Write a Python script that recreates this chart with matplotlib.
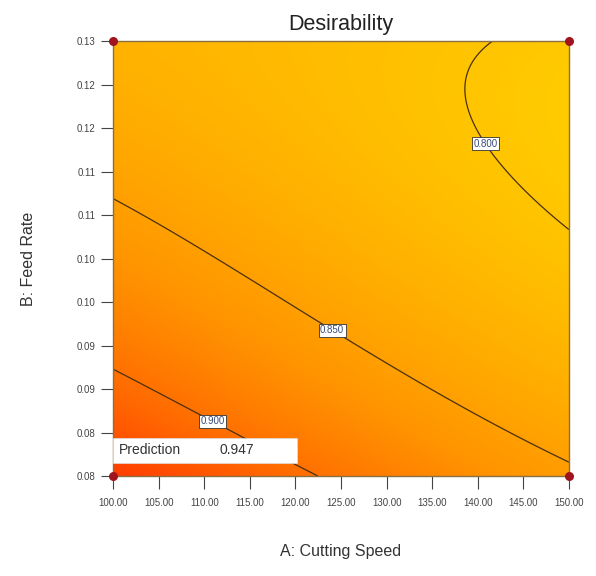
import matplotlib
matplotlib.use("Agg")
import matplotlib.pyplot as plt
import numpy as np
from matplotlib.colors import LinearSegmentedColormap, Normalize

plt.rcParams["font.family"] = ["Liberation Sans", "DejaVu Sans"]

# factor ranges
a_range = [100.0, 150.0]
b_range = [0.08, 0.13]

# points (A: cutting speed, B: feed rate)
level_900_A = [100.0, 105.15, 111.18, 118.64, 122.37]
level_900_B = [0.0922, 0.0891, 0.0869, 0.0818, 0.0800]
level_850_A = [100.0, 110.64, 118.64, 123.79, 132.57, 141.67, 150.0]
level_850_B = [0.1117, 0.1063, 0.0999, 0.0964, 0.0914, 0.0864, 0.0815]
level_800_A = [141.56, 140.30, 139.47, 138.38, 138.60, 139.91, 141.01, 143.20, 146.05, 150.0]
level_800_B = [0.1300, 0.1287, 0.1270, 0.1247, 0.1221, 0.1194, 0.1183, 0.1155, 0.1117, 0.1083]
corner_A = [100.0, 100.0, 150.0, 150.0]
corner_B = [0.080, 0.130, 0.080, 0.130]
corner_D = [0.947, 0.825, 0.855, 0.785]

contour_levels = [0.800, 0.850, 0.900]
label_spots = [(141.0, 0.1183), (123.8, 0.0964), (111.2, 0.0869)]
prediction = 0.947
design_A = [100.0, 100.0, 150.0, 150.0]
design_B = [0.080, 0.130, 0.080, 0.130]

x_ticks = np.arange(100, 151, 5)
x_ticklabels = ["%.2f" % v for v in x_ticks]
y_ticks = [0.080, 0.085, 0.090, 0.095, 0.100, 0.105, 0.110, 0.115, 0.120, 0.125, 0.130]
y_ticklabels = ["0.08", "0.08", "0.09", "0.09", "0.10", "0.10", "0.11", "0.11", "0.12", "0.12", "0.13"]


def coded(A, B):
    a = (np.asarray(A) - 125.0) / 25.0
    b = (np.asarray(B) - 0.105) / 0.025
    return a, b


def terms(a, b):
    return np.column_stack([np.ones_like(a), a, b, a * b, a * a, b * b,
                            a * a * b, a * b * b, a ** 3, b ** 3,
                            a * b ** 3, b ** 4])


# weighted fit of a polynomial response surface through the traced points
A_all = np.concatenate([level_900_A, level_850_A, level_800_A, corner_A])
B_all = np.concatenate([level_900_B, level_850_B, level_800_B, corner_B])
D_all = np.concatenate([[0.900] * len(level_900_A), [0.850] * len(level_850_A),
                        [0.800] * len(level_800_A), corner_D])
w_all = np.concatenate([[1.0] * len(level_900_A), [1.0] * len(level_850_A),
                        [4.0] * len(level_800_A), [0.3, 0.2, 0.2, 0.2]])
a_all, b_all = coded(A_all, B_all)
X = terms(a_all, b_all) * w_all[:, None]
coef, *_ = np.linalg.lstsq(X, D_all * w_all, rcond=None)

A_grid = np.linspace(a_range[0], a_range[1], 300)
B_grid = np.linspace(b_range[0], b_range[1], 300)
AA, BB = np.meshgrid(A_grid, B_grid)
ag, bg = coded(AA.ravel(), BB.ravel())
DD = (terms(ag, bg) @ coef).reshape(AA.shape)

cmap = LinearSegmentedColormap.from_list(
    "desir", ["#ffd400", "#ffb400", "#ff9400", "#ff6a00", "#ff3800"])

fig = plt.figure(figsize=(5.96, 5.76), dpi=100)
ax = fig.add_axes([0.1896, 0.1736, 0.765, 0.7552])

ax.imshow(DD, origin="lower", extent=[a_range[0], a_range[1], b_range[0], b_range[1]],
          aspect="auto", cmap=cmap, norm=Normalize(vmin=0.78, vmax=0.95),
          interpolation="bilinear")
cs = ax.contour(AA, BB, DD, levels=contour_levels, colors="#4a3010", linewidths=0.9)
labels = ax.clabel(cs, fmt="%.3f", fontsize=7, inline=False, manual=label_spots)
for t in labels:
    t.set_rotation(0)
    t.set_color("#3a4a7a")
    t.set_bbox(dict(boxstyle="square,pad=0.15", fc="white", ec="#333333", lw=0.6))

# design points at the corners
ax.scatter(design_A, design_B, s=30, color="#a0141e", zorder=5, clip_on=False)

# prediction box
ax.add_patch(plt.Rectangle((100.0, 0.0815), 20.2, 0.0029, fc="white", ec="#dddddd",
                           lw=0.5, zorder=5, clip_on=False))
ax.text(100.6, 0.08295, "Prediction", fontsize=10, color="#333333", va="center",
        ha="left", zorder=6)
ax.text(111.7, 0.08295, "%.3f" % prediction, fontsize=10, color="#333333",
        va="center", ha="left", zorder=6)

ax.set_xlim(a_range)
ax.set_ylim(b_range)
ax.set_xticks(x_ticks)
ax.set_xticklabels(x_ticklabels)
ax.set_yticks(y_ticks)
ax.set_yticklabels(y_ticklabels)
ax.tick_params(labelsize=7, colors="#444444", length=9, width=0.8, direction="out")
ax.tick_params(axis="x", pad=7)
ax.tick_params(axis="y", pad=3.5)
for side in ax.spines.values():
    side.set_color("#8a7040")
    side.set_linewidth(1.0)

ax.set_title("Desirability", fontsize=15.5, color="#222222", pad=8)
ax.set_xlabel("A: Cutting Speed", fontsize=11.5, color="#333333", labelpad=26)
ax.set_ylabel("B: Feed Rate", fontsize=11.5, color="#333333", labelpad=29)

fig.savefig("out.png", dpi=100)
